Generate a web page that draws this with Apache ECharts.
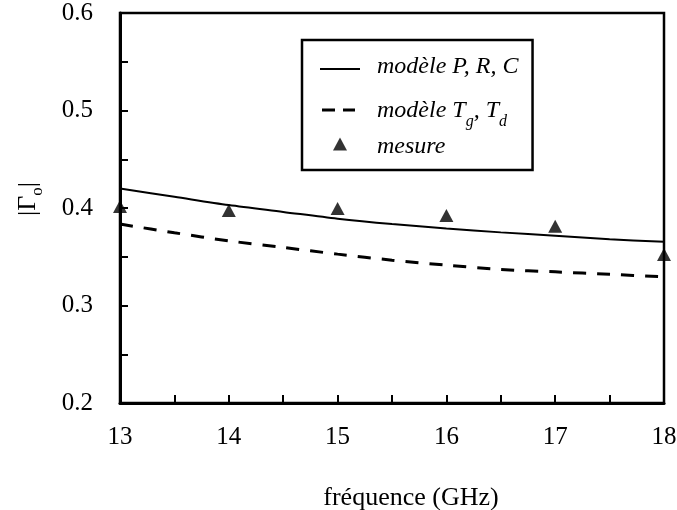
<!DOCTYPE html>
<html>
<head>
<meta charset="utf-8">
<script src="https://cdn.jsdelivr.net/npm/echarts@6/dist/echarts.min.js"></script>
<style>html,body{margin:0;padding:0;background:#fff}#c{width:677px;height:510px}</style>
</head>
<body>
<div id="c"></div>
<script>
var freqCurve = [13, 13.5, 14, 14.5, 15, 15.5, 16, 16.5, 17, 17.5, 18];
var modelPRC = [0.420, 0.4115, 0.403, 0.396, 0.389, 0.3835, 0.379, 0.375, 0.3715, 0.368, 0.3653];
var modelTgTd = [0.3835, 0.3746, 0.3663, 0.3595, 0.3527, 0.3465, 0.3414, 0.337, 0.3345, 0.332, 0.3294];
var freqMeas = [13, 14, 15, 16, 17, 18];
var mesure = [0.4016, 0.3975, 0.3996, 0.3924, 0.3812, 0.3522];
var xTicks = [13, 14, 15, 16, 17, 18];
var yTicks = [0.2, 0.3, 0.4, 0.5, 0.6];

var FONT = '"Liberation Serif", "Times New Roman", serif';
function pairs(xs, ys) { return xs.map(function (x, i) { return [x, ys[i]]; }); }

var chart = echarts.init(document.getElementById('c'));
chart.setOption({
  animation: false,
  backgroundColor: '#fff',
  grid: { left: 120, right: 13, top: 13, bottom: 107, outerBoundsMode: 'none', containLabel: false,
    show: true, borderColor: '#000', borderWidth: 2.5, backgroundColor: 'transparent' },
  legend: {
    orient: 'vertical',
    left: 302, top: 40,
    padding: [15, 14, 9, 18],
    borderColor: '#000', borderWidth: 2.5,
    itemWidth: 40, itemHeight: 24, itemGap: 5,
    selectedMode: false,
    data: [
      { name: 'PRC', icon: 'path://M0,0 M40,24 M0,11H40V13H0Z' },
      { name: 'TgTd', icon: 'path://M0,0 M40,24 M2,20.5H15V23.5H2Z M23,20.5H35V23.5H23Z' },
      { name: 'mesure', icon: 'path://M0,0 M40,24 M13,13.5L20,0.5L27,13.5Z' }
    ],
    formatter: function (name) {
      if (name === 'PRC') return '{i|modèle P, R, C}';
      if (name === 'TgTd') return '{j|modèle T}{s|g}{j|, T}{s|d}';
      return '{i|mesure}';
    },
    textStyle: {
      padding: [0, 0, 0, 12],
      rich: {
        i: { fontFamily: FONT, fontStyle: 'italic', fontSize: 24, lineHeight: 28, color: '#000', verticalAlign: 'top' },
        j: { fontFamily: FONT, fontStyle: 'italic', fontSize: 24, lineHeight: 28, padding: [13, 0, 0, 0], color: '#000', verticalAlign: 'top' },
        s: { fontFamily: FONT, fontStyle: 'italic', fontSize: 16, lineHeight: 16, padding: [28, 0, 0, 0], color: '#000', verticalAlign: 'top' }
      }
    }
  },
  xAxis: {
    type: 'value', min: 13, max: 18, interval: 1,
    name: 'fréquence (GHz)', nameLocation: 'middle', nameGap: 82,
    nameTextStyle: { fontFamily: FONT, fontSize: 26, color: '#000', padding: [0, 0, 0, 38] },
    axisLine: { show: true, onZero: false, lineStyle: { color: '#000', width: 3 } },
    axisTick: { show: true, inside: true, length: 8, lineStyle: { color: '#000', width: 2 } },
    minorTick: { show: true, splitNumber: 2, length: 8, lineStyle: { color: '#000', width: 2 } },
    splitLine: { show: false },
    axisLabel: { margin: 22, fontFamily: FONT, fontSize: 25, color: '#000',
      formatter: function (v) { return xTicks.indexOf(v) >= 0 ? String(v) : ''; } }
  },
  yAxis: {
    type: 'value', min: 0.2, max: 0.6, interval: 0.1,
    name: '{a||Γ}{b|o}{a||}', nameLocation: 'middle', nameGap: 77, nameRotate: 90,
    nameTextStyle: {
      rich: {
        a: { fontFamily: FONT, fontSize: 26, lineHeight: 28, color: '#000', verticalAlign: 'top' },
        b: { fontFamily: FONT, fontSize: 17, lineHeight: 17, padding: [14, 0, 0, 0], color: '#000', verticalAlign: 'top' }
      },
      padding: [0, 0, 0, 18]
    },
    axisLine: { show: true, onZero: false, lineStyle: { color: '#000', width: 3 } },
    axisTick: { show: true, inside: true, length: 8, lineStyle: { color: '#000', width: 2 } },
    minorTick: { show: true, splitNumber: 2, length: 8, lineStyle: { color: '#000', width: 2 } },
    splitLine: { show: false },
    axisLabel: { margin: 27, fontFamily: FONT, fontSize: 25, color: '#000',
      formatter: function (v) { return v.toFixed(1); } }
  },
  series: [
    { name: 'PRC', type: 'line', data: pairs(freqCurve, modelPRC), smooth: 0.3, symbol: 'none',
      lineStyle: { color: '#000', width: 2 }, itemStyle: { color: '#000' } },
    { name: 'TgTd', type: 'line', data: pairs(freqCurve, modelTgTd), smooth: 0.3, symbol: 'none',
      lineStyle: { color: '#000', width: 3, type: [13, 11] }, itemStyle: { color: '#000' } },
    { name: 'mesure', type: 'scatter', data: pairs(freqMeas, mesure), symbol: 'triangle', symbolSize: [14, 13],
      clip: false, itemStyle: { color: '#000' }, z: 5 }
  ]
});
</script>
</body>
</html>
